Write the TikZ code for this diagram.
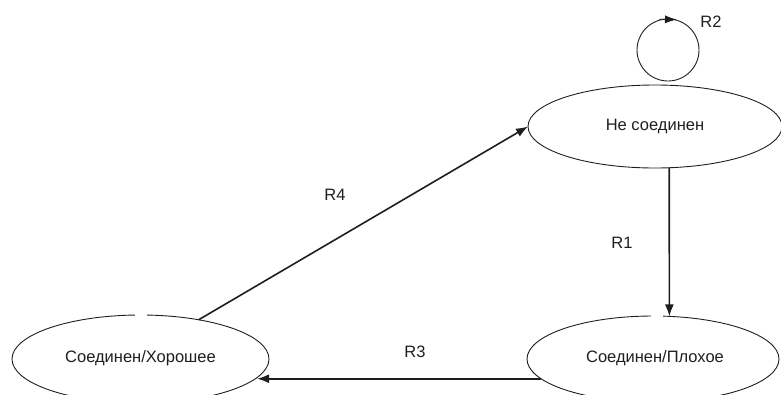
\documentclass[tikz,border=0pt]{standalone}
\usepackage{fontspec}
\setmainfont{Liberation Sans}
\usetikzlibrary{shapes.geometric,arrows.meta}
\definecolor{ink}{HTML}{1E1E1E}
\tikzset{
  state/.style={draw=ink, line width=0.9pt, ellipse, inner sep=0pt, outer sep=0pt,
    font=\fontsize{16.5}{18}\selectfont, text=ink},
  trans/.style={draw=ink, line width=1.6pt, -{Latex[length=12pt,width=9pt]}},
  lbl/.style={font=\fontsize{16.5}{18}\selectfont, text=ink, inner sep=0pt},
}
\begin{document}
\begin{tikzpicture}[x=1pt,y=-1pt]
\useasboundingbox (0,0) rectangle (781,394);
\begin{scope}
\clip (0,0) rectangle (781,394);
\node[state, minimum width=254pt, minimum height=83pt] (T) at (655,126.5) {Не соединен};
\node[state, minimum width=252pt, minimum height=86pt] (R) at (653,359) {};
\node[state, minimum width=257pt, minimum height=88pt] (L) at (140.5,359) {};
\end{scope}
\node[font=\fontsize{16.5}{18}\selectfont, text=ink] (Rt) at (655,358) {Соединен/Плохое};
\node[font=\fontsize{16.5}{18}\selectfont, text=ink] (Lt) at (140.5,358) {Соединен/Хорошее};
% small gaps in the top outlines
\fill[white] (135,312) rectangle (147,319);
\fill[white] (651,312) rectangle (663,319);
% self loop R2
\coordinate (loopc) at (668,50);
\draw[ink, line width=0.9pt] (loopc) circle[radius=31];
\coordinate (looptail) at (659,19.2);
\coordinate (loophead) at (677,19.6);
\draw[ink, line width=0.9pt, -{Latex[length=12pt,width=8pt]}] (looptail) -- (loophead);
% transitions
\draw[trans] (T.-71) -- (R.69.6);
\draw[trans] (R.190) -- (R.190 -| L.-9.4);
\draw[trans] (L.34.6) -- (T.west);
% labels
\node[lbl] (r2) at (711,22) {R2};
\node[lbl] (r1) at (622,243) {R1};
\node[lbl] (r3) at (415,352) {R3};
\node[lbl] (r4) at (335,195) {R4};
\end{tikzpicture}
\end{document}
